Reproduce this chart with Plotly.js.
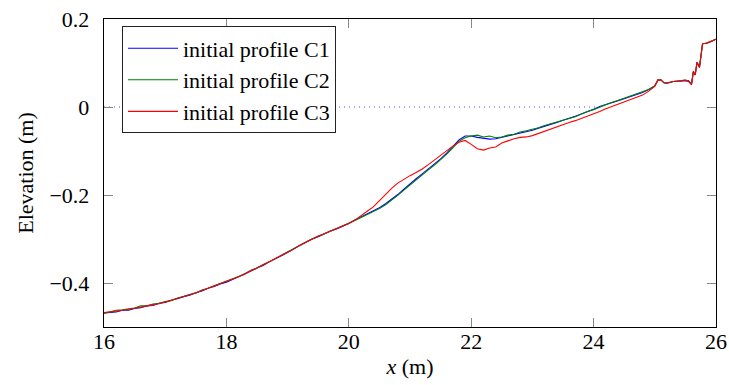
<!DOCTYPE html>
<html>
<head>
<meta charset="utf-8">
<script src="https://cdn.plot.ly/plotly-3.0.1.min.js"></script>
<style>html,body{margin:0;padding:0;background:#fff;}#chart{width:729px;height:385px;}</style>
</head>
<body>
<div id="chart"></div>
<script>
const xs = [16.0,16.1,16.2,16.3,16.4,16.5,16.6,16.7,16.8,16.9,
  17.0,17.1,17.2,17.3,17.4,17.5,17.6,17.7,17.8,17.9,
  18.0,18.1,18.2,18.3,18.4,18.5,18.6,18.7,18.8,18.9,
  19.0,19.1,19.2,19.3,19.4,19.5,19.6,19.7,19.8,19.9,
  20.0,20.1,20.2,20.3,20.4,20.5,20.6,20.7,20.8,20.9,
  21.0,21.1,21.2,21.3,21.4,21.5,21.6,21.7,21.8,21.9,
  22.0,22.1,22.2,22.3,22.4,22.5,22.6,22.7,22.8,22.9,
  23.0,23.1,23.2,23.3,23.4,23.5,23.6,23.7,23.8,23.9,
  24.0,24.1,24.2,24.3,24.4,24.5,24.6,24.7,24.8,24.9,
  25.0,25.05,25.1,25.15,25.2,25.3,25.4,25.5,25.55,25.6,
  25.63,25.66,25.69,25.73,25.78,25.85,25.9,26.0];

const profileC1 = [-0.468,-0.467,-0.466,-0.462,-0.462,-0.458,-0.456,-0.452,-0.451,-0.446,
  -0.444,-0.439,-0.436,-0.431,-0.428,-0.422,-0.418,-0.412,-0.408,-0.402,
  -0.398,-0.392,-0.386,-0.379,-0.373,-0.366,-0.360,-0.352,-0.345,-0.337,
  -0.331,-0.322,-0.315,-0.307,-0.300,-0.295,-0.288,-0.282,-0.277,-0.271,
  -0.265,-0.257,-0.250,-0.242,-0.235,-0.229,-0.220,-0.210,-0.199,-0.187,
  -0.174,-0.163,-0.152,-0.141,-0.130,-0.118,-0.105,-0.091,-0.075,-0.066,
  -0.066,-0.069,-0.071,-0.073,-0.072,-0.069,-0.066,-0.062,-0.059,-0.056,
  -0.053,-0.048,-0.044,-0.039,-0.035,-0.030,-0.026,-0.021,-0.016,-0.011,
  -0.005,0.001,0.006,0.010,0.014,0.019,0.024,0.028,0.033,0.040,
  0.048,0.061,0.062,0.055,0.054,0.058,0.059,0.061,0.060,0.052,
  0.081,0.073,0.102,0.090,0.144,0.145,0.148,0.154];

const profileC2 = [-0.469,-0.465,-0.462,-0.461,-0.459,-0.457,-0.452,-0.452,-0.448,-0.446,
  -0.442,-0.440,-0.434,-0.431,-0.426,-0.423,-0.416,-0.412,-0.406,-0.401,
  -0.396,-0.391,-0.385,-0.379,-0.371,-0.366,-0.358,-0.352,-0.344,-0.337,
  -0.329,-0.322,-0.314,-0.307,-0.300,-0.293,-0.288,-0.282,-0.276,-0.271,
  -0.264,-0.258,-0.251,-0.244,-0.237,-0.231,-0.222,-0.212,-0.201,-0.189,
  -0.177,-0.165,-0.154,-0.143,-0.132,-0.120,-0.107,-0.093,-0.078,-0.070,
  -0.066,-0.064,-0.068,-0.066,-0.070,-0.068,-0.064,-0.062,-0.057,-0.054,
  -0.051,-0.047,-0.042,-0.038,-0.034,-0.031,-0.026,-0.022,-0.016,-0.010,
  -0.006,0.000,0.005,0.010,0.015,0.020,0.025,0.029,0.034,0.040,
  0.048,0.061,0.062,0.055,0.054,0.058,0.059,0.061,0.058,0.053,
  0.079,0.074,0.101,0.091,0.143,0.145,0.148,0.154];

const profileC3 = [-0.467,-0.466,-0.464,-0.462,-0.460,-0.458,-0.455,-0.452,-0.450,-0.447,
  -0.443,-0.439,-0.435,-0.431,-0.427,-0.422,-0.417,-0.412,-0.407,-0.402,
  -0.397,-0.392,-0.386,-0.380,-0.372,-0.366,-0.359,-0.352,-0.344,-0.338,
  -0.330,-0.323,-0.314,-0.307,-0.301,-0.294,-0.288,-0.282,-0.276,-0.270,
  -0.265,-0.257,-0.248,-0.237,-0.227,-0.213,-0.198,-0.185,-0.173,-0.164,
  -0.156,-0.149,-0.141,-0.131,-0.120,-0.111,-0.100,-0.089,-0.080,-0.076,
  -0.085,-0.095,-0.098,-0.093,-0.091,-0.082,-0.077,-0.072,-0.069,-0.068,
  -0.065,-0.060,-0.054,-0.049,-0.044,-0.040,-0.035,-0.031,-0.026,-0.021,
  -0.016,-0.010,-0.004,0.001,0.006,0.011,0.016,0.022,0.027,0.036,
  0.047,0.062,0.061,0.055,0.055,0.058,0.059,0.061,0.059,0.050,
  0.081,0.073,0.102,0.090,0.144,0.145,0.148,0.154];

const waterX = [16, 24.05];
const waterY = [0, 0];

const seriesNames = ['initial profile C1', 'initial profile C2', 'initial profile C3'];
const seriesColors = ['#0000ff', '#008000', '#ff0000'];
const xTickVals = [16, 18, 20, 22, 24, 26];
const yTickVals = [-0.4, -0.2, 0, 0.2];
const yTickText = ['\u22120.4', '\u22120.2', '0', '0.2'];

const FONT = 'serif';

const traces = [
  {x: waterX, y: waterY, mode: 'lines', showlegend: false, hoverinfo: 'skip',
   line: {color: '#5050e8', width: 1.2, dash: '1px,4px'}}
];
[profileC1, profileC2, profileC3].forEach((ys, i) => {
  traces.push({x: xs, y: ys, mode: 'lines', name: seriesNames[i],
    line: {color: seriesColors[i], width: 1.1}});
});

const axisBase = {
  showline: true, linecolor: '#000', linewidth: 1.3, mirror: 'ticks',
  ticks: 'inside', ticklen: 9, tickwidth: 1, tickcolor: '#888',
  showgrid: false, zeroline: false,
  tickfont: {family: FONT, size: 22, color: '#000'}
};

const layout = {
  width: 729, height: 385,
  margin: {l: 104, r: 13, t: 19, b: 58},
  paper_bgcolor: '#fff', plot_bgcolor: '#fff',
  font: {family: FONT, size: 22, color: '#000'},
  xaxis: Object.assign({}, axisBase, {
    range: [16, 26], tickvals: xTickVals, ticklabelstandoff: -6,
    title: {text: '<i>x</i> (m)', font: {family: FONT, size: 22, color: '#000'}, standoff: 6}
  }),
  yaxis: Object.assign({}, axisBase, {
    range: [-0.5, 0.2], tickvals: yTickVals, ticktext: yTickText, ticklabelstandoff: 9,
    title: {text: 'Elevation (m)', font: {family: FONT, size: 22, color: '#000'}, standoff: 9}
  }),
  legend: {
    x: 0.0294, y: 0.976, xanchor: 'left', yanchor: 'top',
    bgcolor: '#fff', bordercolor: '#222', borderwidth: 1,
    font: {family: FONT, size: 22, color: '#000'},
    itemwidth: 50, tracegroupgap: 0
  },
  showlegend: true
};

Plotly.newPlot('chart', traces, layout, {displayModeBar: false, staticPlot: true});
</script>
</body>
</html>
